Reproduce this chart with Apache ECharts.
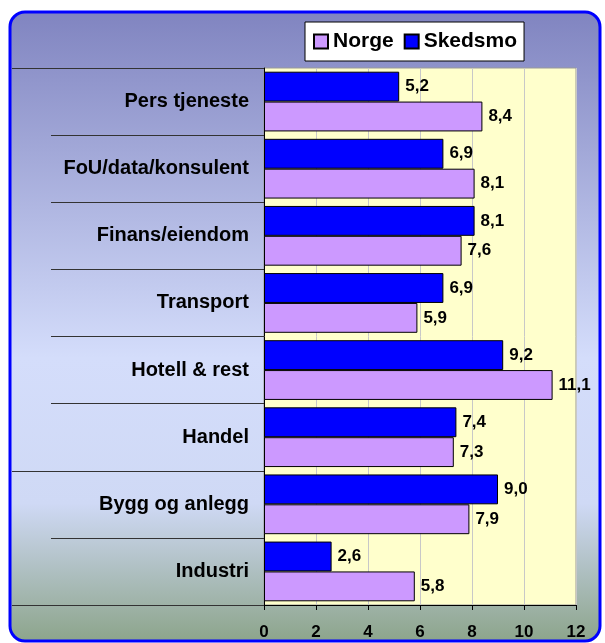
<!DOCTYPE html>
<html>
<head>
<meta charset="utf-8">
<script src="https://cdn.jsdelivr.net/npm/echarts@6/dist/echarts.min.js"></script>
<style>
  html, body { margin: 0; padding: 0; background: #fff; }
  #main { width: 605px; height: 643px; }
</style>
</head>
<body>
<div id="main"></div>
<script>
// kategorier ovenfra og ned
var categories = ['Pers tjeneste', 'FoU/data/konsulent', 'Finans/eiendom', 'Transport',
                  'Hotell & rest', 'Handel', 'Bygg og anlegg', 'Industri'];
var norge    = [8.4, 8.1, 7.6, 5.9, 11.1, 7.3, 7.9, 5.8];
var skedsmo  = [5.2, 6.9, 8.1, 6.9, 9.2, 7.4, 9.0, 2.6];
var xTicks   = [0, 2, 4, 6, 8, 10, 12];
// skillelinjer som går helt ut til kanten (indeks for grense ovenfra)
var fullLines = [0, 6, 8];

var chart = echarts.init(document.getElementById('main'));

function komma(p) { return p.value.toFixed(1).replace('.', ','); }

var labelStyle = { show: true, position: 'right', distance: 6, formatter: komma,
  color: '#000', fontWeight: 'bold', fontSize: 17, fontFamily: 'Arial' };

var option = {
  animation: false,
  textStyle: { fontFamily: 'Arial' },
  graphic: [{
    type: 'rect', z: -10, silent: true,
    shape: { x: 10, y: 12, width: 590, height: 629, r: 15 },
    style: {
      stroke: '#0000ff', lineWidth: 3,
      fill: new echarts.graphic.LinearGradient(0, 0, 0, 1, [
        { offset: 0, color: '#8084c0' },
        { offset: 0.55, color: '#d4ddfb' },
        { offset: 0.78, color: '#cfd9f5' },
        { offset: 1, color: '#8ca48a' }
      ])
    }
  }],
  legend: {
    data: ['Norge', 'Skedsmo'],
    icon: 'rect',
    left: 305, top: 22,
    backgroundColor: '#fff', borderColor: '#000', borderWidth: 1,
    padding: [9, 7, 9, 8],
    itemWidth: 14, itemHeight: 14, itemGap: 10,
    textStyle: { fontWeight: 'bold', fontSize: 21, color: '#000' }
  },
  grid: {
    left: 264, right: 29, top: 68, bottom: 38,
    show: true, backgroundColor: '#ffffcc', borderColor: '#999', borderWidth: 1
  },
  xAxis: {
    type: 'value', min: 0, max: 12, interval: 2,
    axisLine: { show: true, lineStyle: { color: '#000' } },
    axisTick: { show: true, length: 5, lineStyle: { color: '#000' } },
    axisLabel: { margin: 19, color: '#000', fontWeight: 'bold', fontSize: 17,
      formatter: function (v) { return xTicks.indexOf(v) >= 0 ? String(v) : ''; } },
    splitLine: { show: true, lineStyle: { color: '#c8c8c8' } }
  },
  yAxis: {
    type: 'category', data: categories, inverse: true,
    axisLine: { show: true, lineStyle: { color: '#000' } },
    axisTick: { show: true, length: 213, lineStyle: { color: '#333' } },
    axisLabel: { margin: 15, color: '#000', fontWeight: 'bold', fontSize: 20 }
  },
  series: [{
    name: 'Skedsmo', type: 'bar', data: skedsmo,
    barGap: '0%', barCategoryGap: '11%',
    itemStyle: { color: '#0000ff', borderColor: '#000', borderWidth: 1 },
    label: labelStyle
  }, {
    name: 'Norge', type: 'bar', data: norge,
    barGap: '0%', barCategoryGap: '11%',
    itemStyle: { color: '#cc99ff', borderColor: '#000', borderWidth: 1 },
    label: labelStyle
  }]
};
chart.setOption(option);

// lange skillelinjer i kategorifeltet
var c0 = chart.convertToPixel({ yAxisIndex: 0 }, categories[0]);
var c1 = chart.convertToPixel({ yAxisIndex: 0 }, categories[1]);
var band = c1 - c0;
var x0 = chart.convertToPixel({ xAxisIndex: 0 }, 0);
var lines = fullLines.map(function (k) {
  var y = Math.round(c0 - band / 2 + k * band) + 0.5;
  return { type: 'line', z: 5, silent: true,
    shape: { x1: 12, y1: y, x2: x0, y2: y },
    style: { stroke: '#333', lineWidth: 1 } };
});
chart.setOption({ graphic: option.graphic.concat(lines) });
</script>
</body>
</html>
